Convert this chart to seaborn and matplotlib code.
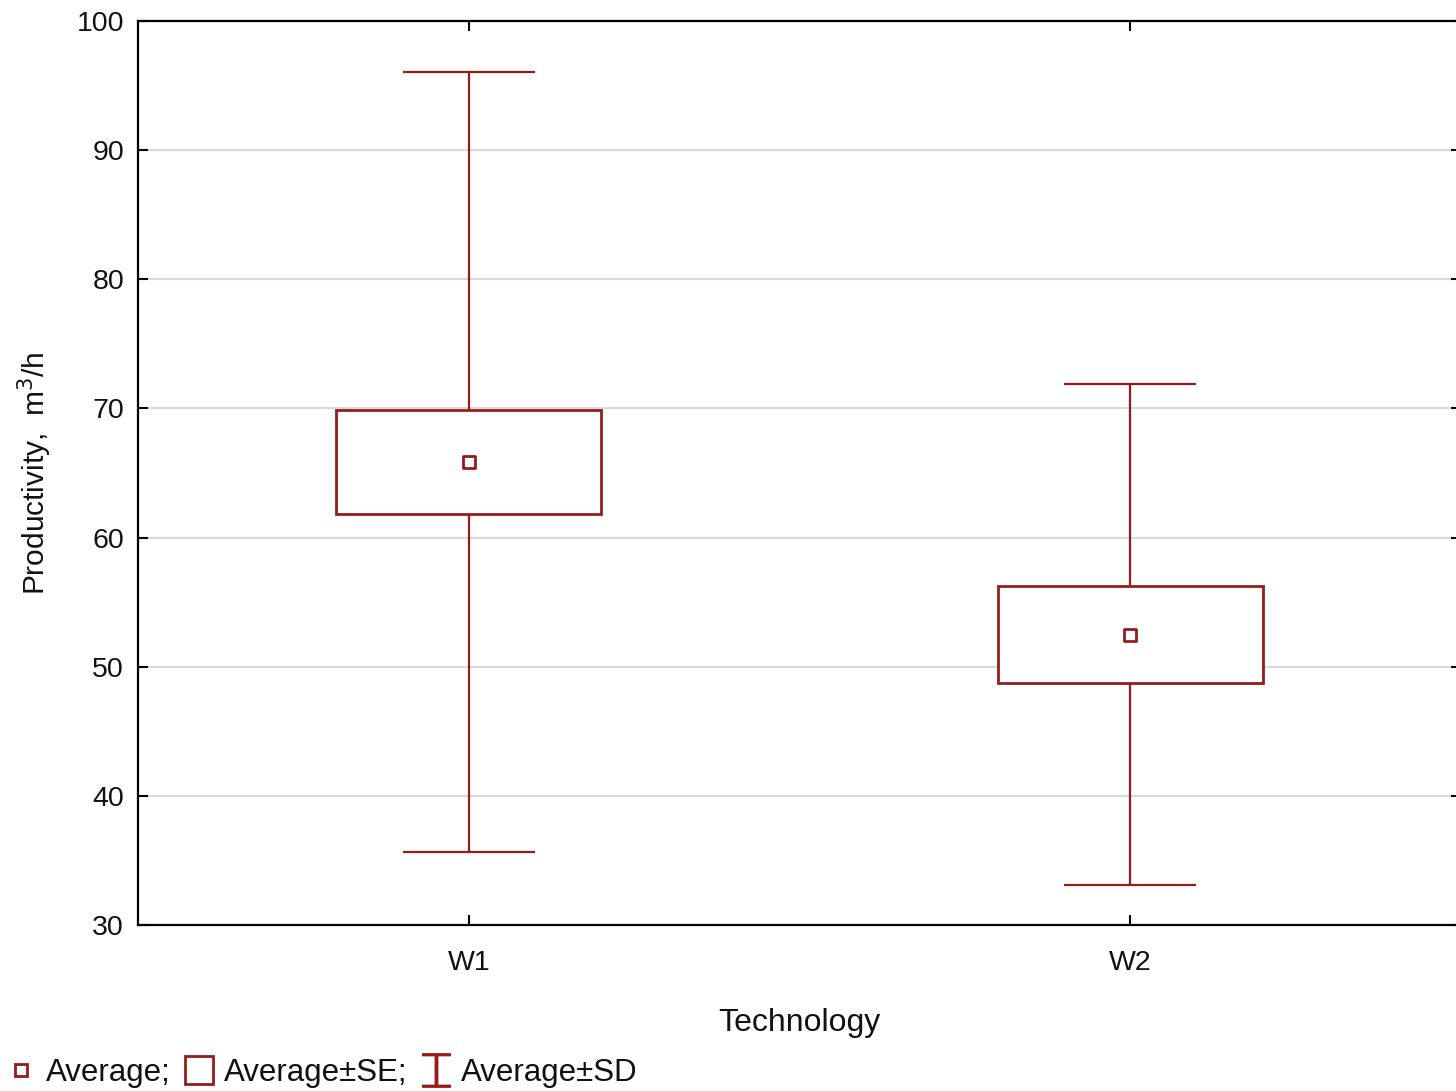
import numpy as np
import matplotlib
matplotlib.use("Agg")
from matplotlib import pyplot as plt
from matplotlib.lines import Line2D
import seaborn as sns

# values
technology = ["W1", "W2"]
avg = np.array([65.85, 52.5])
se = np.array([4.0, 3.75])
sd = np.array([30.2, 19.4])

RED = "#961c1c"

sns.set_style("ticks")
plt.rcParams["font.family"] = ["Liberation Sans", "DejaVu Sans"]
plt.rcParams["text.color"] = "#111111"
plt.rcParams["axes.labelcolor"] = "#111111"

fig = plt.figure(figsize=(14.56, 10.91), dpi=100)
ax = fig.add_axes([0.0948, 0.152, 1.0035 - 0.0948, 0.9808 - 0.152])

ax.yaxis.grid(True, color="#d9d9d9", linewidth=1.5, zorder=0)

# Average±SD whiskers
ax.errorbar(technology, avg, yerr=sd, fmt="none", ecolor=RED, elinewidth=1.6,
            capsize=47.5, capthick=1.6, zorder=2)
# Average±SE boxes
ax.bar(technology, 2 * se, bottom=avg - se, width=0.4, color="white",
       edgecolor=RED, linewidth=2.0, zorder=3)
# Average
sns.scatterplot(x=technology, y=avg, marker="s", s=80, color="white",
                edgecolor=RED, linewidth=2.0, zorder=4, ax=ax)

ax.set_xlim(-0.5, 1.5)
ax.set_ylim(30, 100)
ax.set_yticks(np.arange(30, 101, 10))

for side in ["left", "right", "top", "bottom"]:
    ax.spines[side].set_linewidth(1.6)
    ax.spines[side].set_color("black")
ax.tick_params(direction="in", length=7, width=1.5, top=True, right=True,
               labelsize=20.5, colors="black", labelcolor="#111111")
ax.tick_params(axis="x", pad=18)
ax.tick_params(axis="y", pad=10)

ax.set_xlabel("Technology", fontsize=23, labelpad=23)
ax.set_ylabel("Productivity,  m$^3$/h", fontsize=21.5, labelpad=16)

# legend along the bottom
handles = [
    Line2D([], [], marker="s", ms=9, mfc="white", mec=RED, mew=2, ls="none"),
    Line2D([], [], marker="s", ms=20, mfc="white", mec=RED, mew=2, ls="none"),
    Line2D([], [], marker="$\u2336$", ms=24, color=RED, ls="none"),
]
fig.legend(handles, ["Average;", "Average\u00b1SE;", "Average\u00b1SD"],
           loc="lower left", bbox_to_anchor=(-0.008, -0.014), ncol=3, frameon=False,
           fontsize=22.5, handlelength=0.9, handletextpad=0.35, columnspacing=0.45,
           borderaxespad=0.2)

fig.savefig("out.png", dpi=100)
